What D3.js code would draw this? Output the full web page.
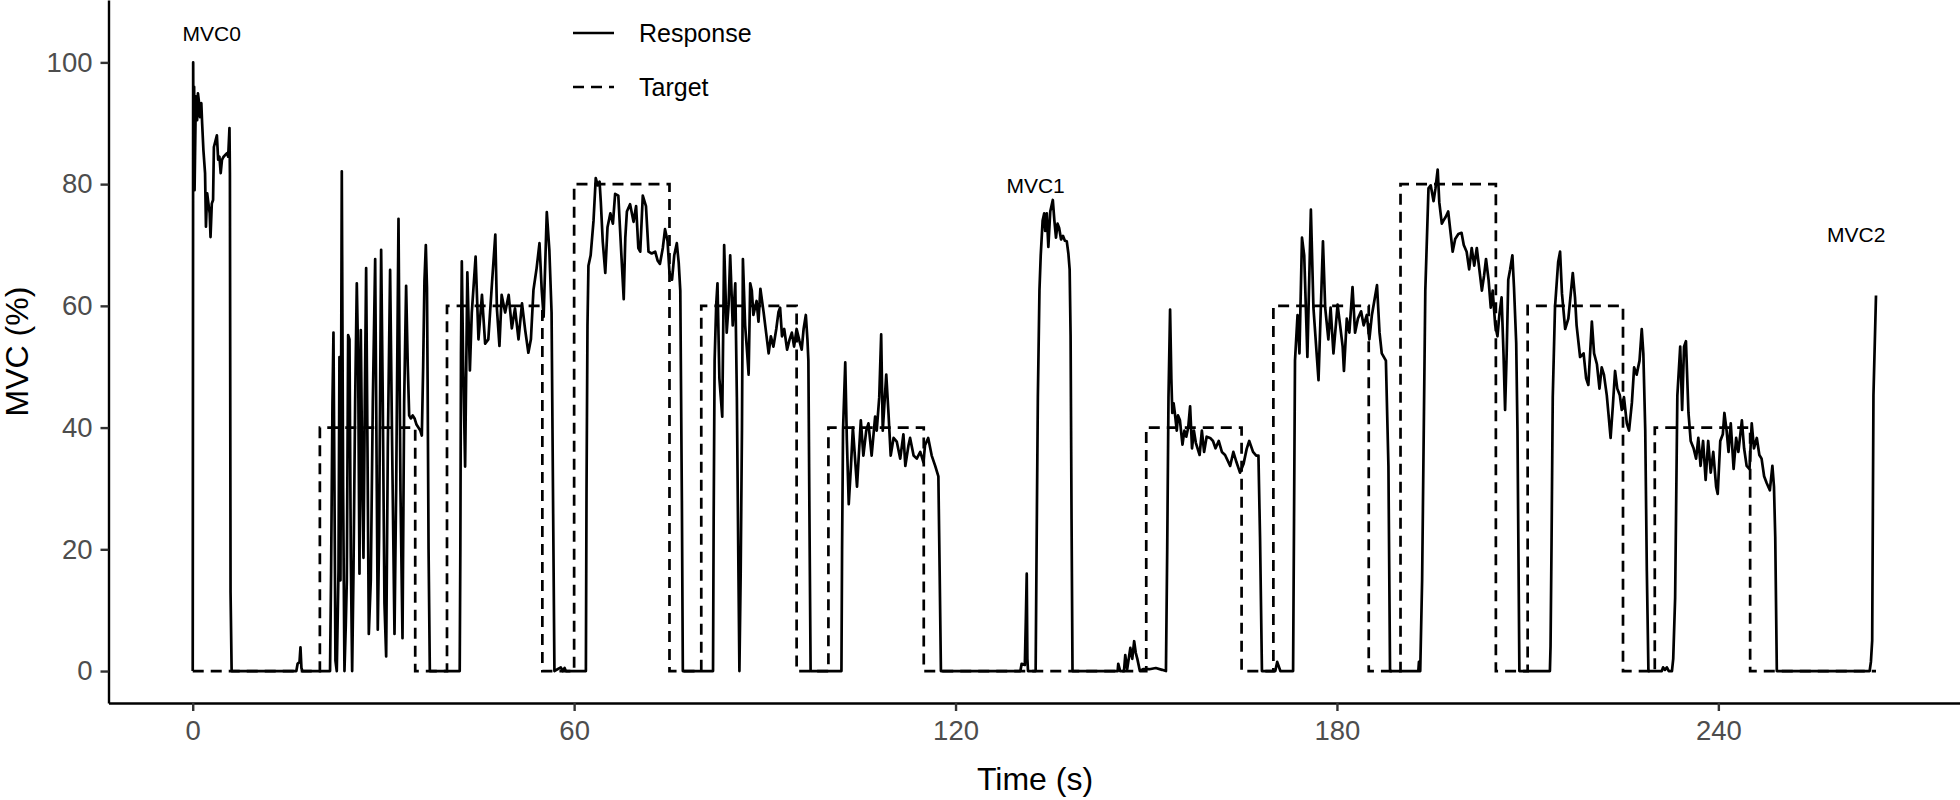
<!DOCTYPE html>
<html><head><meta charset="utf-8">
<script src="https://cdn.jsdelivr.net/npm/d3@7"></script>
<style>body{margin:0;background:#fff}svg{display:block}</style>
</head><body>
<svg id="chart" width="1960" height="800"></svg>
<script>
// ---------- data ----------
const xTicks = [0, 60, 120, 180, 240];
const yTicks = [0, 20, 40, 60, 80, 100];

const targetTime  = [0,20,20,35,35,40,40,55,55,60,60,75,75,80,80,95,95,100,100,115,115,150,150,165,165,170,170,185,185,190,190,205,205,210,210,225,225,230,230,245,245,264.8];
const targetValue = [0,0,40,40,0,0,60,60,0,0,80,80,0,0,60,60,0,0,40,40,0,0,40,40,0,0,60,60,0,0,80,80,0,0,60,60,0,0,40,40,0,0];

const mvcLabels     = ["MVC0", "MVC1", "MVC2"];
const mvcLabelTime  = [3.0, 132.6, 261.7];
const mvcLabelValue = [104.8, 79.8, 71.8];

const legendLabels = ["Response", "Target"];

// response: [time (s), MVC (%)]
const response = [
// MVC0
[0,0],[0.07,100],[0.13,79],[0.22,96],[0.29,79],[0.49,94.4],[0.69,90.5],[0.82,94.9],[0.95,93.8],[1.15,91],[1.35,93.3],[1.48,90],[1.68,85.6],[1.94,81.8],[2.08,73],[2.27,78.5],[2.47,76.8],[2.67,75.2],[2.8,71.3],[3.0,76.8],[3.2,77.4],[3.33,86.1],[3.6,87.2],[3.8,88],[4.0,84],[4.2,84.5],[4.4,81.8],[4.6,84],[4.86,84.5],[5.12,84.8],[5.39,85.1],[5.58,84.5],[5.78,89.2],[5.85,81.8],[5.95,13],[6.12,0],
[16.3,0],[16.5,1.2],[16.8,1.5],[16.95,3.9],[17.1,0.5],[17.25,0],
// trial 1 (40 %)
[21.6,0],[21.77,16.4],[21.98,44],[22.14,55.6],[22.3,29.6],[22.45,1.7],[22.66,0],[22.93,16.4],[23.08,51.6],[23.24,14.9],[23.45,82.1],[23.66,29.6],[23.87,0],[24.08,7.6],[24.24,14.9],[24.45,55.2],[24.66,54.5],[24.87,18.6],[25.08,0],[25.29,16.4],[25.55,44.2],[25.81,63.7],[26.02,51.6],[26.23,16],[26.44,56],[26.7,29.6],[26.86,18.6],[27.07,44.2],[27.28,66.2],[27.49,36.9],[27.7,6.1],[28.01,14.9],[28.33,44.2],[28.7,67.7],[28.96,29.6],[29.11,6.8],[29.32,22.2],[29.64,69.2],[29.9,44.2],[30.16,11.2],[30.43,2.4],[30.69,36.9],[31.05,65.9],[31.37,36.9],[31.74,6.1],[32.0,29.6],[32.37,74.3],[32.68,29.6],[33.0,5.4],[33.26,44.2],[33.57,63.3],[33.83,50.1],[34.05,42],[34.3,41.5],[34.6,42],[34.9,41.5],[35.2,40.5],[35.5,40],[35.8,39.5],[36.04,38.7],[36.25,50],[36.45,64],[36.67,70],[36.85,63],[36.95,48],[37.1,20],[37.3,0],
// trial 2 (60 %)
[42.0,0],[42.1,20],[42.2,52.3],[42.33,67.3],[42.55,50],[42.85,33.6],[43.2,65.5],[43.6,49.4],[43.9,58.9],[44.5,68.1],[44.95,54.5],[45.5,61.8],[46.0,53.8],[46.5,54.5],[47.05,63.3],[47.6,71.7],[47.85,59.6],[48.25,53.4],[48.6,61.8],[49.15,58.9],[49.7,61.8],[50.2,56.3],[50.7,59.6],[51.25,54.5],[51.8,60.4],[52.3,56],[52.8,52.3],[53.2,54.5],[53.6,62.6],[54.1,66.2],[54.55,70.3],[54.9,62.6],[55.2,58.2],[55.7,75.4],[56.1,69.2],[56.45,58.9],[56.7,25.9],[56.9,0],
[57.9,0.6],[58.2,0],[58.5,0.5],[58.7,0],
// trial 3 (80 %)
[61.85,0],[61.95,30],[62.1,56.8],[62.25,66.6],[62.6,68.3],[63.05,74],[63.4,81],[63.7,79.8],[64.0,80.4],[64.2,77],[64.5,70.6],[64.9,65.4],[65.25,72.9],[65.7,75.2],[66.1,73.5],[66.45,78.4],[66.95,78.1],[67.35,70],[67.8,61.1],[68.05,71.2],[68.3,75.5],[68.8,76.7],[69.35,73.8],[69.75,76.4],[70.1,69.5],[70.4,68.9],[70.8,78.1],[71.3,76.4],[71.7,68.9],[72.2,68.6],[72.75,68.9],[73.15,67.4],[73.5,66.9],[73.95,69.5],[74.3,72.6],[74.7,70.6],[75.0,65.4],[75.4,64.3],[75.75,68.3],[76.15,70.3],[76.45,67.1],[76.7,62.5],[76.95,28],[77.1,0],
// trial 4 (60 %)
[81.85,0],[81.95,25],[82.1,51],[82.35,60.2],[82.55,63.7],[82.85,48.1],[83.3,41.8],[83.6,70],[84.0,55.6],[84.3,60.2],[84.55,68.3],[84.95,56.8],[85.35,63.7],[85.6,45],[85.85,16],[86.0,0],[86.2,16],[86.4,39.5],[86.55,67.7],[86.9,56.8],[87.15,53.3],[87.45,48.7],[87.7,63.7],[87.95,62.5],[88.2,58.5],[88.7,60.8],[89.0,57.4],[89.3,62.8],[89.8,59],[90.2,55.6],[90.6,52.2],[90.95,55],[91.35,53.3],[91.8,56.2],[92.15,59],[92.4,59.7],[92.7,55],[93.05,56.2],[93.5,52.8],[93.9,54.5],[94.25,55.6],[94.6,53.3],[95.0,56.2],[95.45,54.2],[95.8,52.8],[96.1,56.2],[96.45,58.5],[96.7,54.5],[96.85,51],[97.0,28],[97.2,0],
// trial 5 (40 %)
[102.05,0],[102.15,20],[102.3,39.5],[102.65,50.7],[102.9,38],[103.2,27.4],[103.55,33.7],[103.85,40],[104.5,30.3],[105.1,41.2],[105.5,35.4],[105.95,39.5],[106.3,40.7],[106.8,35.4],[107.35,41.8],[107.6,39.5],[108.0,45],[108.3,55.3],[108.55,39.5],[109.1,48.7],[109.45,42.4],[109.8,35.4],[110.25,38.3],[110.75,37.7],[111.3,34.9],[111.8,38.9],[112.1,33.7],[112.6,37.1],[112.85,38.3],[113.4,35.4],[113.9,34.9],[114.45,36],[114.95,34.3],[115.2,37.1],[115.7,38.3],[116.25,35.4],[116.8,33.7],[117.3,32],[117.5,16.4],[117.7,0],
// MVC1
[130.2,0],[130.4,1.2],[130.9,1.0],[131.05,8],[131.2,16],[131.3,2],[131.4,0],[132.6,0],[132.75,20],[132.95,45],[133.2,62.5],[133.4,68.3],[133.7,74],[133.95,75.2],[134.1,72.3],[134.35,75.2],[134.6,69.7],[134.9,75.5],[135.3,77.4],[135.55,74],[135.8,71.2],[136.05,73.5],[136.3,72.8],[136.6,70.9],[136.9,71.5],[137.2,70.7],[137.5,70.6],[137.75,68.6],[137.95,66],[138.1,55],[138.25,25],[138.4,0],
[145.5,0],[145.6,1.2],[145.9,0],[146.5,0],[146.7,2.6],[147.0,0.3],[147.5,3.8],[147.8,2],[148.1,4.9],[148.35,3],[148.6,2],[149.0,0],[149.5,0.3],[150.5,0.3],[151.5,0.5],[152.5,0.2],
// trial 6 (40 %)
[153.1,0],[153.3,20],[153.5,45],[153.75,59.4],[153.95,48],[154.1,42.4],[154.3,44],[154.5,42.4],[154.8,39.5],[155.0,42],[155.3,41.2],[155.7,37.2],[156.0,39.5],[156.3,38.5],[156.6,40],[156.9,43.5],[157.2,36.6],[157.5,39.5],[157.8,37.5],[158.4,35.5],[158.75,39.5],[159.1,36],[159.5,38.5],[160.05,38.3],[160.5,37.8],[160.9,36.6],[161.4,37.8],[161.9,36],[162.4,35.5],[163.2,33.7],[163.7,36],[164.2,34.3],[164.75,32.6],[165.3,34],[165.8,36.5],[166.2,37.8],[166.8,36],[167.3,35.4],[167.65,35.4],[167.9,22],[168.2,0],
[170.3,0],[170.6,1.5],[171.1,0],
// trial 7 (60 %)
[173.1,0],[173.25,25],[173.4,51],[173.8,58.5],[174.1,52.2],[174.5,71.2],[174.85,68.3],[175.35,51.6],[175.9,75.8],[176.3,59.7],[177.1,47.8],[177.8,70.6],[178.15,59.7],[178.65,54.5],[179.0,59.7],[179.45,52.2],[180.1,60.2],[180.5,56.8],[180.9,53.3],[181.1,49.3],[181.55,57.9],[181.95,55.6],[182.45,63.1],[182.85,55.6],[183.3,57.9],[183.8,59.1],[184.2,56.8],[184.7,58.5],[185.1,54.5],[185.5,58.5],[186.3,63.4],[186.7,55.6],[187.05,52.2],[187.7,51],[188.1,33.7],[188.35,0],
// trial 8 (80 %)
[192.8,0],[192.9,1.5],[193.1,0],[193.4,15],[193.9,62.5],[194.4,79.3],[194.75,79.8],[195.2,77.2],[195.5,79.3],[195.85,82.4],[196.1,77],[196.5,73.5],[196.75,74],[197.1,74.6],[197.5,75.5],[197.9,71.8],[198.2,68.9],[198.6,71],[199.1,71.8],[199.6,72],[199.95,70],[200.4,68.9],[200.8,66],[201.2,69.5],[201.6,66.6],[202.0,69.5],[202.4,66],[202.8,62.5],[203.15,65],[203.45,67.7],[203.85,64.3],[204.2,59.7],[204.5,62.5],[204.9,56.8],[205.25,55],[205.55,58.5],[205.9,61.4],[206.2,52.2],[206.45,42.9],[206.7,52.2],[206.95,64.3],[207.25,66],[207.6,68.3],[207.85,63.1],[208.2,53.9],[208.4,39.5],[208.7,0],
// trial 9 (60 %)
[213.5,0],[213.6,4],[213.75,20],[213.95,45],[214.3,59.7],[214.8,67.2],[215.1,68.9],[215.4,62],[215.9,56.2],[216.4,57.9],[217.1,65.4],[217.45,61.4],[217.7,56.8],[218.25,51.6],[218.8,52.2],[219.2,48.1],[219.55,47],[220.1,57.4],[220.45,52.2],[220.9,50.4],[221.3,46.4],[221.65,49.9],[222.0,48.7],[222.45,45.3],[222.7,42.4],[223.05,38.3],[223.4,43.5],[223.75,49.3],[224.1,46.4],[224.5,45.3],[224.8,42.9],[225.15,45],[225.6,40.7],[225.95,39.5],[226.4,44.1],[226.75,49.9],[227.15,48.7],[227.6,51],[227.95,56.2],[228.2,52.2],[228.5,39.5],[228.75,16.4],[229.0,0],
[231.1,0],[231.3,0.6],[231.6,0.2],[231.9,0.6],[232.2,0],
// trial 10 (40 %)
[232.7,0],[232.9,2],[233.2,12],[233.55,45.3],[234.0,53.3],[234.3,42.9],[234.6,53.3],[234.9,54.2],[235.3,42.4],[235.65,37.8],[236.1,36.6],[236.5,34.9],[236.85,38.3],[237.2,33.7],[237.6,37.8],[238.0,31.4],[238.4,37.8],[238.8,32.6],[239.2,36],[239.65,30.3],[239.9,29.1],[240.3,37.8],[240.7,38.9],[240.95,42.4],[241.3,39.5],[241.6,36],[241.95,40.7],[242.4,33.2],[242.8,38.3],[243.15,36],[243.7,41.2],[244.05,36.6],[244.45,33.7],[244.9,33.2],[245.25,40.7],[245.6,36.6],[246.05,38.3],[246.45,35.5],[246.8,34.9],[247.2,32],[247.6,30.9],[248.1,29.7],[248.5,33.7],[248.75,30.3],[248.95,22],[249.2,0],
// MVC2
[263.8,0],[264.0,1.5],[264.2,5],[264.4,45.3],[264.8,61.7]
];

// ---------- layout ----------
const W = 1960, H = 800;
const panel = {left: 108.5, right: 1961.5, top: 0, bottom: 703};
const FONT = "'Liberation Sans', Arial, Helvetica, sans-serif";

// domains: data range (0–265 s, 0–105 %) with 5 % expansion
const x = d3.scaleLinear().domain([-13.25, 278.25]).range([panel.left, panel.right]);
const y = d3.scaleLinear().domain([-5.25, 110.25]).range([panel.bottom, panel.top]);

const svg = d3.select("#chart");
svg.append("rect").attr("width", W).attr("height", H).attr("fill", "#fff");

const target = targetTime.map((t, i) => [t, targetValue[i]]);
const line = d3.line().x(d => x(d[0])).y(d => y(d[1]));

svg.append("path").datum(target)
  .attr("d", line).attr("fill", "none").attr("stroke", "#000")
  .attr("stroke-width", 2.7).attr("stroke-dasharray", "11,7");

svg.append("path").datum(response)
  .attr("d", line).attr("fill", "none").attr("stroke", "#000")
  .attr("stroke-width", 2.7).attr("stroke-linejoin", "round");

// annotations
svg.selectAll("text.mvc").data(mvcLabels).join("text")
  .attr("class", "mvc")
  .attr("x", (d, i) => x(mvcLabelTime[i]))
  .attr("y", (d, i) => y(mvcLabelValue[i]))
  .attr("dy", "0.36em")
  .attr("text-anchor", "middle")
  .style("font-family", FONT).style("font-size", "21px").attr("fill", "#000")
  .text(d => d);

// axes
const xAxis = d3.axisBottom(x).tickValues(xTicks).tickSize(8).tickSizeOuter(0).tickPadding(9);
const yAxis = d3.axisLeft(y).tickValues(yTicks).tickSize(8).tickSizeOuter(0).tickPadding(8);

const gx = svg.append("g").attr("transform", `translate(0,${panel.bottom})`).call(xAxis);
const gy = svg.append("g").attr("transform", `translate(${panel.left},0)`).call(yAxis);
[gx, gy].forEach(g => {
  g.select(".domain").attr("stroke", "#000").attr("stroke-width", 2.4);
  g.selectAll(".tick line").attr("stroke", "#333").attr("stroke-width", 2.4);
  g.selectAll(".tick text").attr("fill", "#4d4d4d")
    .style("font-family", FONT).style("font-size", "27.5px");
});

// axis titles
svg.append("text").attr("x", (panel.left + panel.right) / 2).attr("y", 790)
  .attr("text-anchor", "middle").style("font-family", FONT).style("font-size", "32px")
  .attr("fill", "#000").text("Time (s)");
svg.append("text").attr("transform", `translate(28,${(panel.top + panel.bottom) / 2}) rotate(-90)`)
  .attr("text-anchor", "middle").style("font-family", FONT).style("font-size", "32px")
  .attr("fill", "#000").text("MVC (%)");

// legend
const legend = svg.append("g");
const legendY = [33, 87];
legendLabels.forEach((lab, i) => {
  legend.append("line").attr("x1", 573).attr("x2", 614).attr("y1", legendY[i]).attr("y2", legendY[i])
    .attr("stroke", "#000").attr("stroke-width", 2.7)
    .attr("stroke-dasharray", i === 1 ? "11,7" : null);
  legend.append("text").attr("x", 639).attr("y", legendY[i]).attr("dy", "0.36em")
    .style("font-family", FONT).style("font-size", "25px").attr("fill", "#000").text(lab);
});
</script>
</body></html>
